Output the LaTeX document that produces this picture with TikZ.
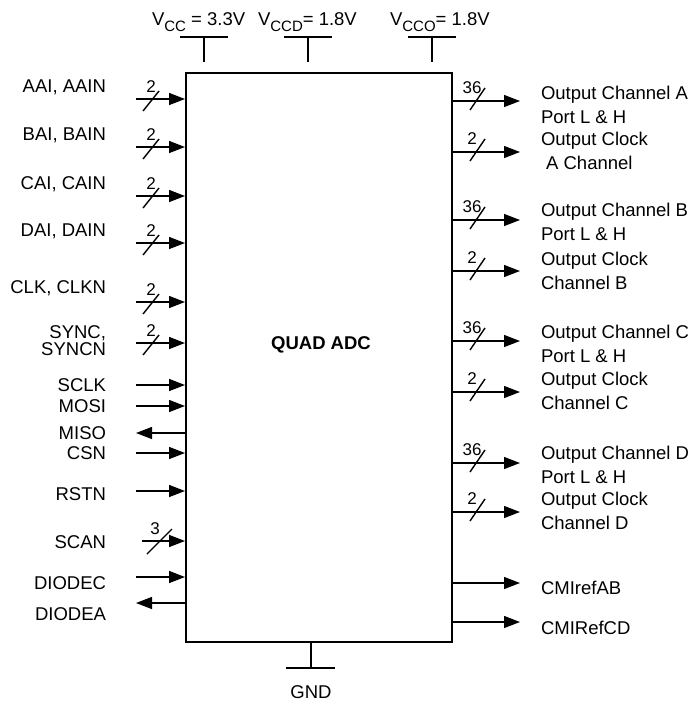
\documentclass[tikz,border=0pt]{standalone}
\usepackage{fontspec}
\setmainfont{Liberation Sans}
\usetikzlibrary{arrows.meta}
\newcommand\subV[1]{\raisebox{-6.5pt}{\fontsize{15}{16}\selectfont #1}}
\begin{document}
\begin{tikzpicture}[x=1pt,y=-1pt,
  font=\fontsize{18.5}{22}\selectfont,
  wire/.style={line width=1.4pt},
  sig/.style={line width=1.4pt,-{Triangle[length=16pt,width=12pt]}},
  lbl/.style={inner sep=0pt,outer sep=0pt},
  buslbl/.style={inner sep=0pt,font=\fontsize{17}{18}\selectfont},
  lslash/.pic={\draw[line width=1.4pt] (-8,12) -- (8,-8);},
  rslash/.pic={\draw[line width=1.4pt] (-7,9) -- (8,-13);},
  sslash/.pic={\draw[line width=1.4pt] (-13,13) -- (12,-12);}
]
\useasboundingbox (0,0) rectangle (690,702);

% main block
\node[draw,line width=2pt,minimum width=266pt,minimum height=569pt,inner sep=0pt] (adc) at (319,357.5) {};
\node[lbl,font=\fontsize{18.5}{22}\selectfont\bfseries] (title) at (321,345) {QUAD ADC};

% supplies
\node[lbl,anchor=base west] (vccl) at (152,25) {V\subV{CC} = 3.3V};
\node[lbl,anchor=base west] (vccdl) at (258,25) {V\subV{CCD}= 1.8V};
\node[lbl,anchor=base west] (vccol) at (390,25) {V\subV{CCO}= 1.8V};
\coordinate (vcc) at (204,37);
\coordinate (vccd) at (308,37);
\coordinate (vcco) at (432,37);
\foreach \p in {vcc,vccd,vcco}{
  \draw[wire] ([xshift=-24pt]\p) -- ([xshift=24pt]\p);
  \draw[wire] (\p) -- ++(0,25);
}

% ground
\coordinate (gndtop) at (adc.south -| 311,0);
\coordinate (gnd) at (311,668);
\draw[wire] (gndtop) -- (gnd);
\draw[wire] ([xshift=-25pt]gnd) -- ([xshift=24pt]gnd);
\node[lbl] (gndl) at (311,692) {GND};

% left bus inputs
\foreach \n/\y/\ly/\t in {aai/99/87/{AAI, AAIN},bai/147/135/{BAI, BAIN},cai/196/184/{CAI, CAIN},dai/243/231/{DAI, DAIN},clk/302/288/{CLK, CLKN}}{
  \coordinate (i\n) at (136,\y);
  \draw[sig] (i\n) -- (i\n -| adc.west);
  \pic at (151,\y) {lslash};
  \node[buslbl] (w\n) at (151,\y-12) {2};
  \node[lbl,anchor=east] (l\n) at (106,\ly) {\t};
}
\coordinate (isync) at (136,343);
\draw[sig] (isync) -- (isync -| adc.west);
\pic at (151,343) {lslash};
\node[buslbl] (wsync) at (151,331) {2};
\node[lbl,anchor=east,align=right,font=\fontsize{18.5}{17.5}\selectfont] (lsync) at (106,340.5) {SYNC,\\SYNCN};

% single inputs
\foreach \n/\y/\ly/\t in {sclk/385/385/SCLK,mosi/406/406/MOSI,csn/453/453/CSN,rstn/491/494/RSTN,diodec/577/583/DIODEC}{
  \coordinate (i\n) at (136,\y);
  \draw[sig] (i\n) -- (i\n -| adc.west);
  \node[lbl,anchor=east] (l\n) at (106,\ly) {\t};
}
% outputs on left side
\foreach \n/\y/\ly/\t in {miso/433/433/MISO,diodea/603/614/DIODEA}{
  \coordinate (i\n) at (136,\y);
  \draw[sig] (i\n -| adc.west) -- (i\n);
  \node[lbl,anchor=east] (l\n) at (106,\ly) {\t};
}
% scan
\coordinate (iscan) at (142,541);
\draw[sig] (iscan) -- (iscan -| adc.west);
\pic at (160,541) {sslash};
\node[buslbl] (wscan) at (155,529) {3};
\node[lbl,anchor=east] (lscan) at (106,542) {SCAN};

% right outputs with bus
\foreach \n/\y/\w/\ly/\t in {
  oa/101/36/104.5/{Output Channel A\\Port L \& H},
  ca/152/2/151/{Output Clock\\\ A Channel},
  ob/220/36/221.5/{Output Channel B\\Port L \& H},
  cb/271/2/270.5/{Output Clock\\Channel B},
  oc/341/36/343.5/{Output Channel C\\Port L \& H},
  cc/392/2/390.5/{Output Clock\\Channel C},
  od/463/36/465/{Output Channel D\\Port L \& H},
  cd/512/2/510.5/{Output Clock\\Channel D}}{
  \coordinate (\n) at (520,\y);
  \draw[sig] (\n -| adc.east) -- (\n);
  \pic at (477,\y) {rslash};
  \node[buslbl] (w\n) at (472,\y-13) {\w};
  \node[lbl,anchor=west,align=left,font=\fontsize{18.5}{24}\selectfont] (l\n) at (541,\ly) {\t};
}
% right single outputs
\foreach \n/\y/\ly/\t in {cmab/583/588/CMIrefAB,cmcd/622/628/CMIRefCD}{
  \coordinate (\n) at (520,\y);
  \draw[sig] (\n -| adc.east) -- (\n);
  \node[lbl,anchor=west] (l\n) at (541,\ly) {\t};
}
\end{tikzpicture}
\end{document}
